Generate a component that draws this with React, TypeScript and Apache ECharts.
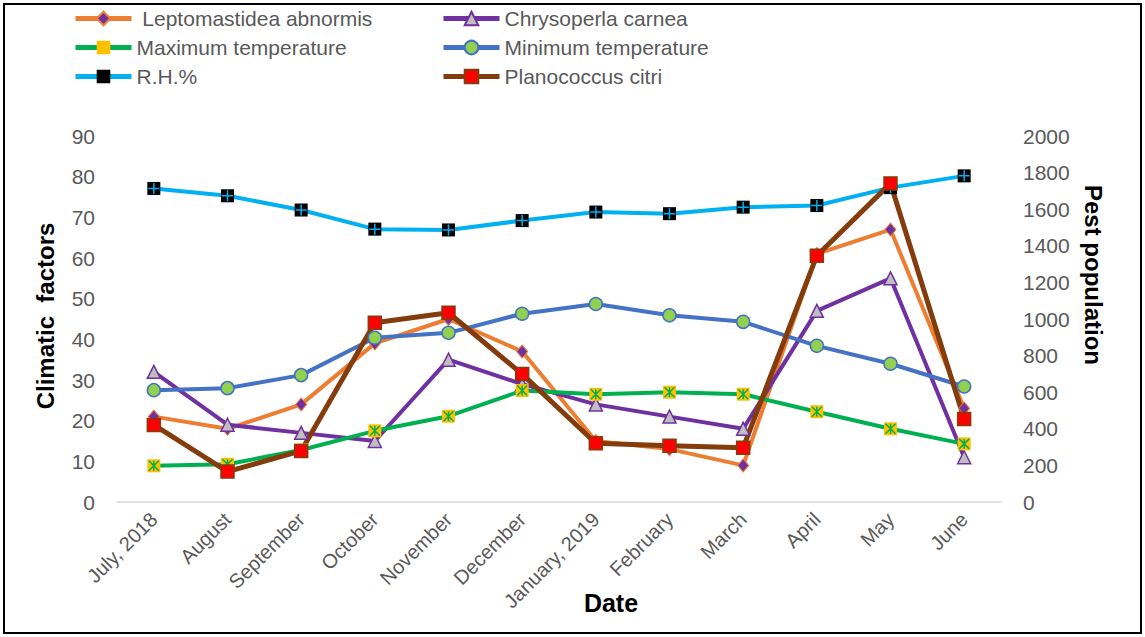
import React, { useEffect, useRef } from "react";
import * as echarts from "echarts";

// Monthly observations, July 2018 – June 2019
const months = [
  "July, 2018", "August", "September", "October", "November", "December",
  "January, 2019", "February", "March", "April", "May", "June",
];
const leptomastidea = [21, 18, 24, 39, 45, 37, 15, 13, 9, 61, 67, 23];
const chrysoperla = [32, 19, 17, 15, 35, 29, 24, 21, 18, 47, 55, 11];
const maxTemp = [8.9, 9.3, 12.8, 17.5, 21.1, 27.4, 26.5, 27.0, 26.5, 22.2, 18.0, 14.3];
const minTemp = [27.5, 28.0, 31.2, 40.4, 41.6, 46.3, 48.7, 45.9, 44.3, 38.4, 34.0, 28.4];
const relHumidity = [77.1, 75.3, 71.8, 67.1, 66.9, 69.2, 71.3, 70.9, 72.5, 72.9, 77.3, 80.2];
const planococcus = [421, 166, 279, 980, 1034, 699, 321, 308, 297, 1346, 1741, 454];

const leftTicks = { min: 0, max: 90, interval: 10 };
const rightTicks = { min: 0, max: 2000, interval: 200 };

const FONT = "'Liberation Sans', Arial, sans-serif";
const GREY = "#595959";

const STAR = "path://M0,0L10,10M10,0L0,10M5,0L5,10";
const PLUS = "path://M5,0L5,10M0,5L10,5";

export default function App() {
  const ref = useRef<HTMLDivElement>(null);

  useEffect(() => {
    if (!ref.current) return;
    const chart = echarts.init(ref.current, undefined, { renderer: "svg" });

    const legendText = { color: GREY, fontFamily: FONT, fontSize: 21, lineHeight: 20 };
    const legendCommon = {
      orient: "vertical",
      top: 3,
      itemWidth: 56,
      itemHeight: 17,
      itemGap: 8,
      textStyle: legendText,
      lineStyle: { width: 5 },
    };

    chart.setOption({
      animation: false,
      backgroundColor: "#ffffff",
      grid: { left: 117, right: 144, top: 136, bottom: 135 },
      legend: [
        {
          ...legendCommon,
          data: ["Leptomastidea abnormis", "Maximum temperature", "R.H.%"],
          left: 68,
          formatter: (n: string) => (n === "Leptomastidea abnormis" ? " " + n : n),
        },
        {
          ...legendCommon,
          data: ["Chrysoperla carnea", "Minimum temperature", "Planococcus citri"],
          left: 436,
        },
      ],
      xAxis: {
        type: "category",
        data: months,
        boundaryGap: true,
        axisLine: { show: true, lineStyle: { color: "#D9D9D9", width: 1.5 } },
        axisTick: { show: false },
        axisLabel: {
          rotate: 45,
          margin: 14,
          color: GREY,
          fontFamily: FONT,
          fontSize: 20,
          interval: 0,
        },
      },
      yAxis: [
        {
          type: "value",
          ...leftTicks,
          position: "left",
          splitLine: { show: false },
          axisLine: { show: false },
          axisTick: { show: false },
          axisLabel: { color: GREY, fontFamily: FONT, fontSize: 21, margin: 22 },
        },
        {
          type: "value",
          ...rightTicks,
          position: "right",
          splitLine: { show: false },
          axisLine: { show: false },
          axisTick: { show: false },
          axisLabel: {
            color: GREY,
            fontFamily: FONT,
            fontSize: 21,
            margin: 22,
            formatter: (v: number) => String(v),
          },
        },
      ],
      graphic: [
        {
          type: "rect",
          shape: { x: 4, y: 4, width: 1137, height: 629 },
          style: { fill: "none", stroke: "#000", lineWidth: 2 },
          silent: true,
        },
        {
          type: "text",
          x: 45,
          y: 316,
          rotation: Math.PI / 2,
          style: {
            text: "Climatic  factors",
            font: `bold 24px ${FONT}`,
            fill: "#000",
            align: "center",
            verticalAlign: "middle",
          },
        },
        {
          type: "text",
          x: 1093,
          y: 275,
          rotation: -Math.PI / 2,
          style: {
            text: "Pest population",
            font: `bold 24px ${FONT}`,
            fill: "#000",
            align: "center",
            verticalAlign: "middle",
          },
        },
        {
          type: "text",
          x: 611,
          y: 603,
          style: {
            text: "Date",
            font: `bold 25px ${FONT}`,
            fill: "#000",
            align: "center",
            verticalAlign: "middle",
          },
        },
      ],
      series: [
        {
          name: "Leptomastidea abnormis",
          type: "line",
          data: leptomastidea,
          yAxisIndex: 0,
          lineStyle: { color: "#ED7D31", width: 4 },
          symbol: "diamond",
          symbolSize: [11, 13],
          itemStyle: { color: "#7030A0", borderColor: "#ED7D31", borderWidth: 1 },
        },
        {
          name: "Chrysoperla carnea",
          type: "line",
          data: chrysoperla,
          yAxisIndex: 0,
          lineStyle: { color: "#7030A0", width: 4 },
          symbol: "triangle",
          symbolSize: 13,
          itemStyle: { color: "#BFBFBF", borderColor: "#7030A0", borderWidth: 1.5 },
        },
        {
          name: "Maximum temperature",
          type: "line",
          data: maxTemp,
          yAxisIndex: 0,
          lineStyle: { color: "#00B050", width: 4 },
          symbol: "rect",
          symbolSize: 13,
          itemStyle: { color: "#FFC000", borderColor: "#FFC000", borderWidth: 0 },
        },
        {
          name: "maxTempStar",
          type: "line",
          data: maxTemp,
          yAxisIndex: 0,
          lineStyle: { width: 0, opacity: 0 },
          symbol: STAR,
          symbolSize: 10,
          itemStyle: { color: "transparent", borderColor: "#00B050", borderWidth: 1.5 },
          silent: true,
        },
        {
          name: "Minimum temperature",
          type: "line",
          data: minTemp,
          yAxisIndex: 0,
          lineStyle: { color: "#4472C4", width: 4 },
          symbol: "circle",
          symbolSize: 13,
          itemStyle: { color: "#92D050", borderColor: "#4472C4", borderWidth: 1.5 },
        },
        {
          name: "R.H.%",
          type: "line",
          data: relHumidity,
          yAxisIndex: 0,
          lineStyle: { color: "#00B0F0", width: 4 },
          symbol: "rect",
          symbolSize: 13,
          itemStyle: { color: "#000000", borderColor: "#000000", borderWidth: 0 },
        },
        {
          name: "rhPlus",
          type: "line",
          data: relHumidity,
          yAxisIndex: 0,
          lineStyle: { width: 0, opacity: 0 },
          symbol: PLUS,
          symbolSize: 11,
          itemStyle: { color: "transparent", borderColor: "#00B0F0", borderWidth: 1.5 },
          silent: true,
        },
        {
          name: "Planococcus citri",
          type: "line",
          data: planococcus,
          yAxisIndex: 1,
          lineStyle: { color: "#843C0C", width: 5 },
          symbol: "rect",
          symbolSize: 13,
          itemStyle: { color: "#FF0000", borderColor: "#843C0C", borderWidth: 1.5 },
        },
      ],
    });

    return () => chart.dispose();
  }, []);

  return (
    <div
      ref={ref}
      style={{ position: "fixed", left: 0, top: 0, width: 1145, height: 637 }}
    />
  );
}
